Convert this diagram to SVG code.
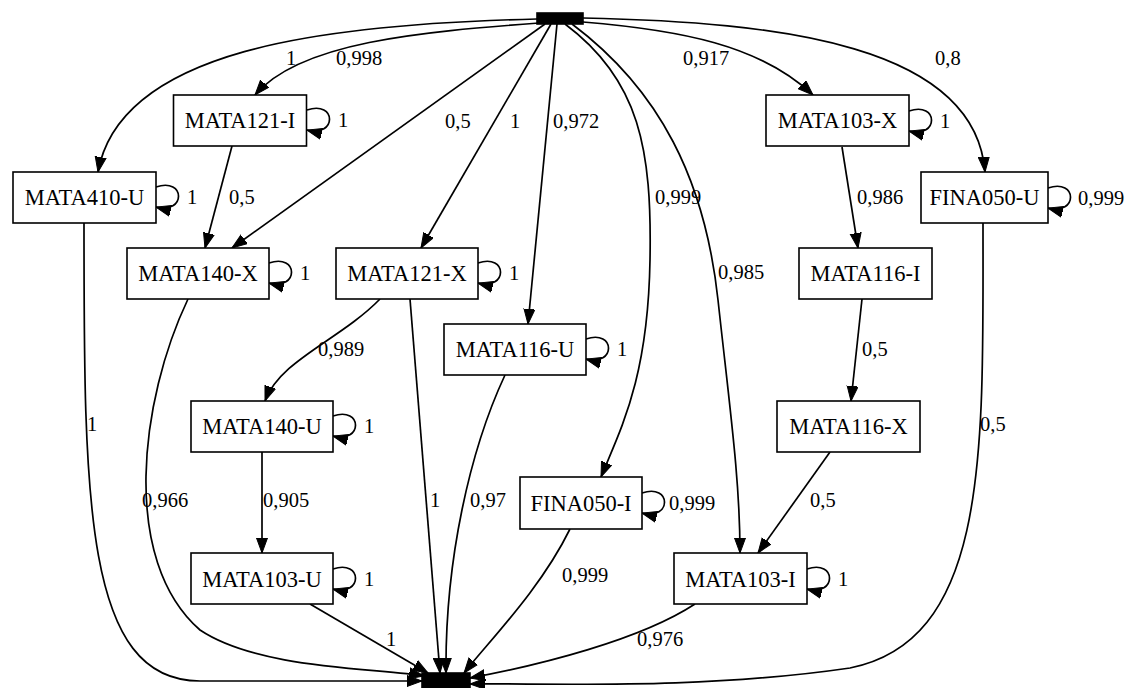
<svg xmlns="http://www.w3.org/2000/svg" width="1126" height="688" viewBox="0 0 1126 688">
  <style>
    .node rect { fill: #ffffff; stroke: #000000; stroke-width: 1.6; }
    .node rect.term { fill: #000000; stroke: #000000; }
    .node text { font-family: "Liberation Serif", "Times New Roman", Times, "Nimbus Roman", serif; font-size: 22.5px; fill: #000; text-anchor: middle; }
    .edges path { fill: none; stroke: #000000; stroke-width: 1.7; marker-end: url(#arrow); }
    .lbl { font-family: "Liberation Serif", "Times New Roman", Times, "Nimbus Roman", serif; font-size: 20.5px; fill: #000; }
  </style>
  <defs>
    <marker id="arrow" markerUnits="userSpaceOnUse" markerWidth="18" markerHeight="14" refX="15" refY="6" orient="auto">
      <path d="M0,0.5 L15,6 L0,11.5 z" fill="#000" stroke="#000" stroke-width="1"/>
    </marker>
  </defs>

  <!-- connectors -->
  <g id="connectors" class="edges">
    <!-- from start -->
    <path d="M537,19 C320,24 120,50 98,172"/>
    <path d="M539,23 C420,32 300,42 255,95"/>
    <path d="M545,24 L232,248"/>
    <path d="M551,24 L421,248"/>
    <path d="M557,24 L528,324"/>
    <path d="M565,24 C640,80 652,150 650,260 C648,380 620,430 601,477"/>
    <path d="M572,24 C660,90 705,180 718,300 C730,410 740,480 740,553"/>
    <path d="M583,22 C680,30 760,45 813,95"/>
    <path d="M583,18 C780,22 975,45 985,172"/>
    <!-- between activities -->
    <path d="M232,146 L205,248"/>
    <path d="M380,299 C340,340 280,360 265,401"/>
    <path d="M262,452 L262,553"/>
    <path d="M842,147 L858,248"/>
    <path d="M862,299 L851,401"/>
    <path d="M830,452 L758,553"/>
    <!-- to end -->
    <path d="M84,223 C84,500 84,681 200,681 L422,681"/>
    <path d="M188,299 C140,400 120,560 200,630 C260,670 380,668 424,676"/>
    <path d="M410,299 L440,673"/>
    <path d="M505,375 C470,450 445,560 446,673"/>
    <path d="M310,604 L428,673"/>
    <path d="M570,529 C540,590 490,640 464,673"/>
    <path d="M695,604 C640,640 540,665 470,678"/>
    <path d="M983,223 C983,450 990,640 850,668 C700,690 550,683 470,684"/>
    <!-- self loops -->
    <path d="M307,110 C337,100 337,138 307,130"/>
    <path d="M156,187 C186,177 186,215 156,207"/>
    <path d="M269,263 C299,253 299,291 269,283"/>
    <path d="M478,263 C508,253 508,291 478,283"/>
    <path d="M586,339 C616,329 616,367 586,359"/>
    <path d="M333,416 C363,406 363,444 333,436"/>
    <path d="M333,569 C363,559 363,597 333,589"/>
    <path d="M642,493 C672,483 672,521 642,513"/>
    <path d="M807,569 C837,559 837,597 807,589"/>
    <path d="M909,111 C939,101 939,139 909,131"/>
    <path d="M1048,188 C1078,178 1078,216 1048,208"/>
  </g>

  <!-- connector labels -->
  <g id="edge-labels" class="lbl">
    <text x="286" y="65">1</text>
    <text x="336" y="65">0,998</text>
    <text x="683" y="65">0,917</text>
    <text x="935" y="65">0,8</text>
    <text x="445" y="128">0,5</text>
    <text x="510" y="128">1</text>
    <text x="553" y="128">0,972</text>
    <text x="229" y="204">0,5</text>
    <text x="655" y="204">0,999</text>
    <text x="857" y="204">0,986</text>
    <text x="718" y="279">0,985</text>
    <text x="318" y="356">0,989</text>
    <text x="862" y="356">0,5</text>
    <text x="87" y="431">1</text>
    <text x="980" y="431">0,5</text>
    <text x="142" y="507">0,966</text>
    <text x="263" y="507">0,905</text>
    <text x="430" y="507">1</text>
    <text x="470" y="507">0,97</text>
    <text x="810" y="507">0,5</text>
    <text x="562" y="582">0,999</text>
    <text x="386" y="646">1</text>
    <text x="637" y="646">0,976</text>
    <!-- self-loop labels -->
    <text x="338" y="127">1</text>
    <text x="187" y="204">1</text>
    <text x="300" y="280">1</text>
    <text x="509" y="280">1</text>
    <text x="617" y="356">1</text>
    <text x="364" y="433">1</text>
    <text x="364" y="586">1</text>
    <text x="669" y="510">0,999</text>
    <text x="838" y="586">1</text>
    <text x="940" y="128">1</text>
    <text x="1078" y="205">0,999</text>
  </g>

  <!-- nodes -->
  <g id="start" class="node"><rect class="term" x="537" y="13" width="46" height="11"/></g>
  <g id="end" class="node"><rect class="term" x="422" y="673" width="48" height="15"/></g>

  <g id="MATA121-I" class="node"><rect x="173.5" y="95" width="133" height="51"/><text x="240" y="128">MATA121-I</text></g>
  <g id="MATA103-X" class="node"><rect x="766" y="95" width="143" height="51"/><text x="837.5" y="128">MATA103-X</text></g>
  <g id="MATA410-U" class="node"><rect x="13" y="172" width="143" height="51"/><text x="84.5" y="205">MATA410-U</text></g>
  <g id="FINA050-U" class="node"><rect x="921" y="172" width="127" height="51"/><text x="984.5" y="205">FINA050-U</text></g>
  <g id="MATA140-X" class="node"><rect x="127" y="248" width="142" height="51"/><text x="198" y="281">MATA140-X</text></g>
  <g id="MATA121-X" class="node"><rect x="336" y="248" width="142" height="51"/><text x="407" y="281">MATA121-X</text></g>
  <g id="MATA116-I" class="node"><rect x="799" y="248" width="133" height="51"/><text x="865.5" y="281">MATA116-I</text></g>
  <g id="MATA116-U" class="node"><rect x="444" y="324" width="142" height="51"/><text x="515" y="357">MATA116-U</text></g>
  <g id="MATA140-U" class="node"><rect x="191" y="401" width="142" height="51"/><text x="262" y="434">MATA140-U</text></g>
  <g id="MATA116-X" class="node"><rect x="777" y="401" width="143" height="51"/><text x="848.5" y="434">MATA116-X</text></g>
  <g id="FINA050-I" class="node"><rect x="520" y="477" width="122" height="52"/><text x="581" y="511">FINA050-I</text></g>
  <g id="MATA103-U" class="node"><rect x="191" y="553" width="142" height="51"/><text x="262" y="587">MATA103-U</text></g>
  <g id="MATA103-I" class="node"><rect x="674" y="553" width="133" height="51"/><text x="740.5" y="587">MATA103-I</text></g>
</svg>
